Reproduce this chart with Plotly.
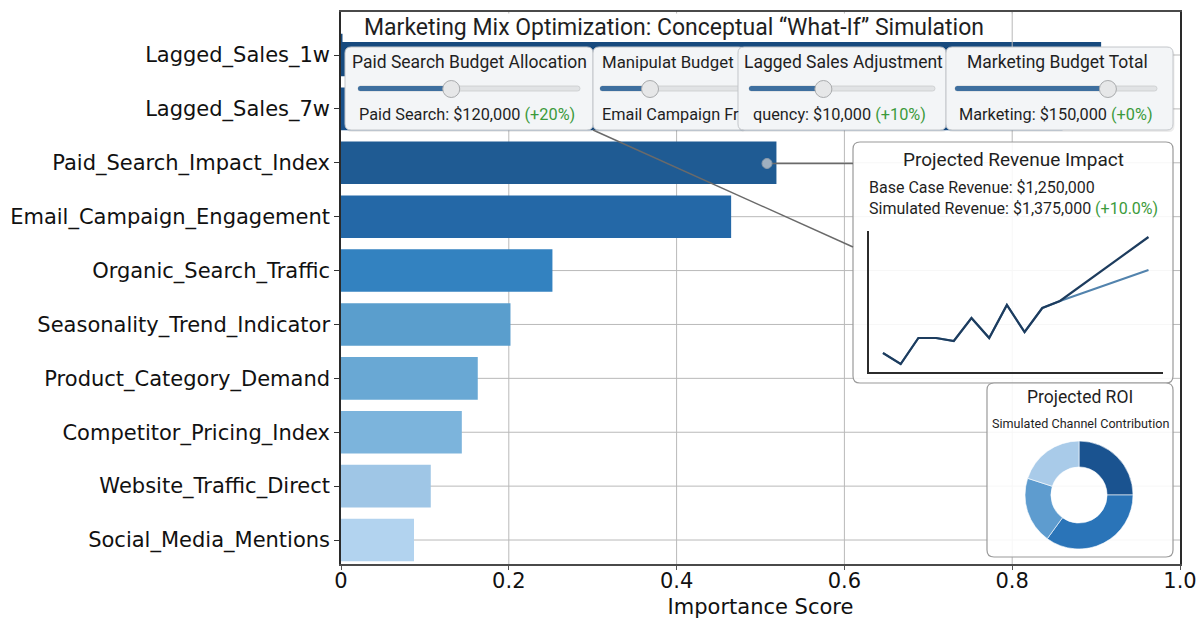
import plotly.graph_objects as go

# ---------------- data ----------------
features = ["Lagged_Sales_1w", "Lagged_Sales_7w", "Paid_Search_Impact_Index",
            "Email_Campaign_Engagement", "Organic_Search_Traffic",
            "Seasonality_Trend_Indicator", "Product_Category_Demand",
            "Competitor_Pricing_Index", "Website_Traffic_Direct", "Social_Media_Mentions"]
importance = [0.906, 0.86, 0.519, 0.465, 0.252, 0.202, 0.163, 0.144, 0.107, 0.087]
bar_colors = ["#174a7e", "#1a518a", "#1f5b93", "#2468a7", "#3382c0",
              "#5a9ecd", "#69a8d4", "#7cb4dc", "#9fc6e6", "#b2d3ef"]

x_tick_vals = [0, 0.2, 0.4, 0.6, 0.8, 1.0]
x_tick_text = ["0", "0.2", "0.4", "0.6", "0.8", "1.0"]

rev_period = [0, 1, 2, 3, 4, 5, 6, 7, 8, 9, 10, 15]
base_rev = [19, 8, 34, 34, 31, 54, 34, 67, 40, 64, 71, 102]
sim_rev = [19, 8, 34, 34, 31, 54, 34, 67, 40, 64, 71, 135]

roi_channels = ["Paid Search", "Email", "Organic", "Social"]
roi_share = [25, 35, 20, 20]
roi_colors = ["#1a5390", "#2a74b8", "#5e9ccf", "#a9cbe9"]

slider_titles = ["Paid Search Budget Allocation", "Manipulat Budget",
                 "Lagged Sales Adjustment", "Marketing Budget Total"]
slider_values = ["Paid Search: $120,000 ", "Email Campaign Fr",
                 "quency: $10,000 ", "Marketing: $150,000 "]
slider_changes = ["(+20%)", "", "(+10%)", "(+0%)"]
slider_pos = [0.42, 0.345, 0.40, 0.757]

title_text = "Marketing Mix Optimization: Conceptual \u201cWhat-If\u201d Simulation"

# ---------------- geometry helpers (pixel -> paper) ----------------
PL, PR, PT, PB = 341, 1180, 12, 564
W, H = 1204, 619


def X(px):
    return (px - PL) / (PR - PL)


def Y(py):
    return (PB - py) / (PB - PT)


def rrect(x0, y0, x1, y1, r):
    p = [("M", x0 + r, y0), ("L", x1 - r, y0), ("Q", x1, y0, x1, y0 + r),
         ("L", x1, y1 - r), ("Q", x1, y1, x1 - r, y1), ("L", x0 + r, y1),
         ("Q", x0, y1, x0, y1 - r), ("L", x0, y0 + r), ("Q", x0, y0, x0 + r, y0)]
    s = ""
    for seg in p:
        pts = seg[1:]
        coords = [f"{X(pts[i]):.5f},{Y(pts[i+1]):.5f}" for i in range(0, len(pts), 2)]
        s += seg[0] + " " + " ".join(coords) + " "
    return s + "Z"


fig = go.Figure()

# main bar chart
fig.add_trace(go.Bar(orientation="h", y=features, x=importance,
                     marker=dict(color=bar_colors, line=dict(width=0)),
                     width=0.79, hoverinfo="x+y"))

# mini revenue chart
fig.add_trace(go.Scatter(x=rev_period, y=base_rev, mode="lines",
                         line=dict(color="#5283ad", width=2),
                         xaxis="x2", yaxis="y2", name="Base"))
fig.add_trace(go.Scatter(x=rev_period, y=sim_rev, mode="lines",
                         line=dict(color="#1d3c5e", width=2.2),
                         xaxis="x2", yaxis="y2", name="Simulated"))

# donut
fig.add_trace(go.Pie(labels=roi_channels, values=roi_share, hole=0.52, sort=False,
                     direction="clockwise", rotation=0, textinfo="none",
                     marker=dict(colors=roi_colors, line=dict(color="white", width=0.6)),
                     domain=dict(x=[X(1025), X(1133)], y=[Y(549), Y(441)])))

shapes = []
annotations = []
GRID = "#b9b9b9"

# gridlines (drawn as lower-layer shapes so the cards can veil them)
for v in x_tick_vals[1:-1]:
    shapes.append(dict(type="line", xref="x", yref="paper", layer="below",
                       x0=v, x1=v, y0=0, y1=1, line=dict(color=GRID, width=1)))
for f in features:
    shapes.append(dict(type="line", xref="paper", yref="y", layer="below",
                       x0=0, x1=1, y0=f, y1=f, line=dict(color=GRID, width=1)))

# revenue and ROI cards (semi-opaque, over gridlines, under traces)
for (x0, y0, x1, y1) in [(853, 142, 1173, 383), (987, 383, 1173, 557)]:
    shapes.append(dict(type="path", path=rrect(x0, y0, x1, y1, 7),
                       xref="paper", yref="paper", layer="below",
                       fillcolor="rgba(255,255,255,0.88)",
                       line=dict(color="#9a9a9a", width=1.2)))

# title box
shapes.append(dict(type="rect", xref="paper", yref="paper", layer="above",
                   x0=X(342.5), x1=X(1179), y0=Y(42), y1=Y(13.5),
                   fillcolor="white", line=dict(width=0)))
# the 0.8 gridline stays visible through the title band
shapes.append(dict(type="line", xref="x", yref="paper", layer="above",
                   x0=x_tick_vals[4], x1=x_tick_vals[4], y0=Y(47), y1=1,
                   line=dict(color=GRID, width=1)))

# slider cards
cards = [(345, 593), (593, 745), (738, 946), (946, 1173)]
tracks = [(358, 580), (600, 745), (749, 935), (955, 1157)]
for i, ((cx0, cx1), (tx0, tx1)) in enumerate(zip(cards, tracks)):
    shapes.append(dict(type="path", path=rrect(cx0 + 1, 49, cx1 + 1.5, 132, 6),
                       xref="paper", yref="paper", layer="above",
                       fillcolor="rgba(0,0,0,0.07)", line=dict(width=0)))
    shapes.append(dict(type="path", path=rrect(cx0, 47, cx1, 130, 6),
                       xref="paper", yref="paper", layer="above",
                       fillcolor="#f3f5f7", line=dict(color="#c3c6ca", width=1)))
    shapes.append(dict(type="path", path=rrect(tx0, 86, tx1, 91, 2.5),
                       xref="paper", yref="paper", layer="above",
                       fillcolor="#e1e3e5", line=dict(color="#c9cbcd", width=0.8)))
    kx = tx0 + slider_pos[i] * (tx1 - tx0)
    shapes.append(dict(type="path", path=rrect(tx0, 86, kx, 91, 2.5),
                       xref="paper", yref="paper", layer="above",
                       fillcolor="#3e6f9f", line=dict(width=0)))
    shapes.append(dict(type="circle", xref="paper", yref="paper", layer="above",
                       x0=X(kx - 8.5), x1=X(kx + 8.5), y0=Y(97.5), y1=Y(80.5),
                       fillcolor="#e6e7e8", line=dict(color="#a9abad", width=1)))

# connectors
shapes.append(dict(type="line", xref="paper", yref="paper", layer="above",
                   x0=X(593), y0=Y(130), x1=X(853), y1=Y(247),
                   line=dict(color="#6a6a6a", width=1.5)))
shapes.append(dict(type="line", xref="paper", yref="paper", layer="above",
                   x0=X(767), y0=Y(163.5), x1=X(853), y1=Y(163.5),
                   line=dict(color="#6a6a6a", width=1.5)))
shapes.append(dict(type="circle", xref="paper", yref="paper", layer="above",
                   x0=X(762), x1=X(772), y0=Y(168.5), y1=Y(158.5),
                   fillcolor="#9fb0c0", line=dict(color="#8a9aaa", width=1)))

GREEN = "#3b9a3b"
FONT = "Roboto"


def ann(text, px, py, size, xanchor="center", color="#1f1f1f"):
    annotations.append(dict(text=text, x=X(px), y=Y(py), xref="paper", yref="paper",
                            xanchor=xanchor, yanchor="middle", showarrow=False,
                            font=dict(family=FONT, size=size, color=color)))


ann(title_text, 362, 27, 23, "left")

title_x = [(469, "center"), (600, "left"), (843, "center"), (1057, "center")]
value_x = [(467, "center"), (600, "left"), (751, "left"), (1056, "center")]
title_sz = [17.5, 16.8, 17.5, 17.5]
for i in range(4):
    ann(slider_titles[i], title_x[i][0], 62, title_sz[i], title_x[i][1])
    t = slider_values[i]
    if slider_changes[i]:
        t += f"<span style='color:{GREEN}'>{slider_changes[i]}</span>"
    ann(t, value_x[i][0], 114, 16.3, value_x[i][1])

ann("Projected Revenue Impact", 1013, 160, 19)
ann("Base Case Revenue: $1,250,000", 867, 188, 16, "left")
ann(f"Simulated Revenue: $1,375,000 <span style='color:{GREEN}'>(+10.0%)</span>",
    867, 208, 16, "left")
ann("Projected ROI", 1080, 397, 17.5)
ann("Simulated Channel Contribution", 1080, 423, 12.6)

fig.update_layout(
    width=W, height=H,
    margin=dict(l=PL, r=W - PR, t=PT, b=H - PB, autoexpand=False),
    paper_bgcolor="white", plot_bgcolor="rgba(0,0,0,0)",
    showlegend=False,
    shapes=shapes, annotations=annotations,
    font=dict(family="DejaVu Sans", color="#111"),
    xaxis=dict(range=[0, 1], tickvals=x_tick_vals, ticktext=x_tick_text,
               showgrid=False, automargin=False,
               showline=True, mirror=True, linecolor="#4a4a4a", linewidth=1.5,
               ticks="outside", ticklen=4, tickcolor="#555",
               ticklabelstandoff=-7,
               tickfont=dict(family="DejaVu Sans", size=21, color="#111"),
               title=dict(text="Importance Score", standoff=12,
                          font=dict(family="DejaVu Sans", size=21, color="#111")),
               zeroline=False, fixedrange=True),
    yaxis=dict(categoryorder="array", categoryarray=features[::-1],
               range=[-0.445, 9.798], showgrid=False, automargin=False,
               showline=True, mirror=True, linecolor="#2a2a2a", linewidth=1.5,
               ticks="outside", ticklen=5, tickcolor="#333",
               tickfont=dict(family="DejaVu Sans", size=21, color="#111"),
               zeroline=False, fixedrange=True),
    xaxis2=dict(domain=[X(869), X(1163)], anchor="y2", range=[-0.79, 15.82],
                showgrid=False, zeroline=False, showticklabels=False, ticks="",
                showline=True, linecolor="#2b2b2b", linewidth=1.5, fixedrange=True),
    yaxis2=dict(domain=[Y(372), Y(231)], anchor="x2", range=[0, 141],
                showgrid=False, zeroline=False, showticklabels=False, ticks="",
                showline=True, linecolor="#2b2b2b", linewidth=1.5, fixedrange=True),
)

fig.write_html("out.html")
